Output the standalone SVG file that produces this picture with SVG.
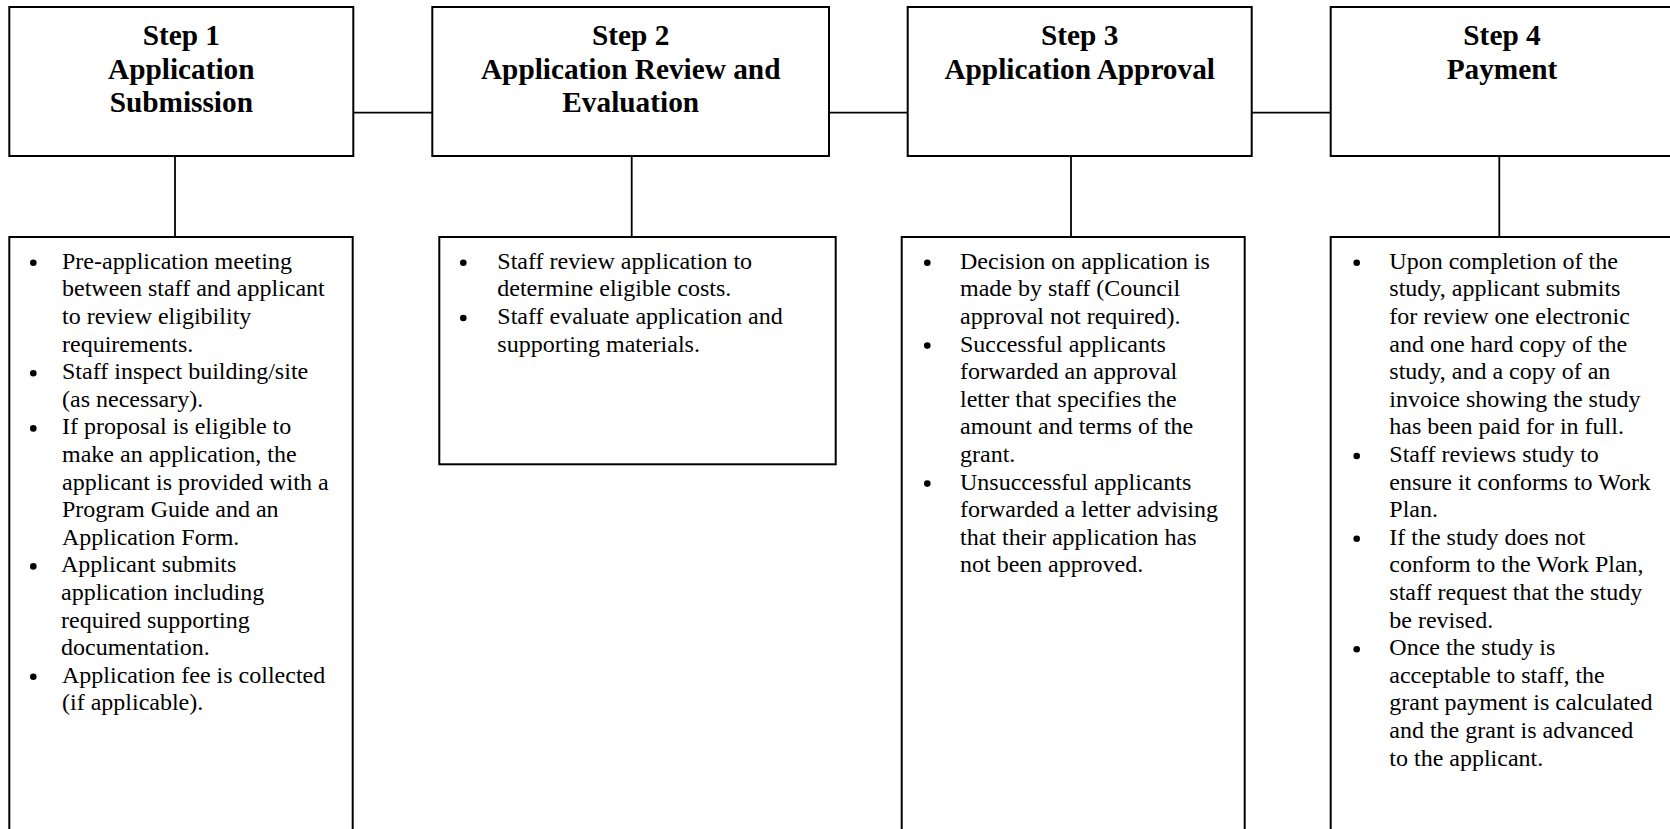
<svg xmlns="http://www.w3.org/2000/svg" width="1670" height="829" viewBox="0 0 1670 829">
<style>
.box{fill:#fff;stroke:#000;stroke-width:2}
.con{stroke:#000;stroke-width:1.8;fill:none}
.h{font-family:"Liberation Serif","Times New Roman",serif;font-weight:bold;font-size:29.3px;text-anchor:middle;fill:#000}
.b{font-family:"Liberation Serif","Times New Roman",serif;font-size:24px;fill:#000}
.dot{fill:#000}
</style>
<rect width="1670" height="829" fill="#fff"/>
<g id="connectors">
<line class="con" x1="353" y1="112.7" x2="432.3" y2="112.7"/>
<line class="con" x1="829" y1="112.7" x2="907.7" y2="112.7"/>
<line class="con" x1="1251.7" y1="112.7" x2="1330.7" y2="112.7"/>
<line class="con" x1="175" y1="156" x2="175" y2="237"/>
<line class="con" x1="631.7" y1="156" x2="631.7" y2="237"/>
<line class="con" x1="1071" y1="156" x2="1071" y2="237"/>
<line class="con" x1="1499.3" y1="156" x2="1499.3" y2="237"/>
</g>
<g id="step1">
<rect class="box" x="9.3" y="7" width="344" height="149"/>
<text class="h" x="181.3" y="45">Step 1</text>
<text class="h" x="181.3" y="78.7">Application</text>
<text class="h" x="181.3" y="112.4">Submission</text>
</g>
<g id="step2">
<rect class="box" x="432.3" y="7" width="396.7" height="149"/>
<text class="h" x="630.7" y="45">Step 2</text>
<text class="h" x="630.7" y="78.7">Application Review and</text>
<text class="h" x="630.7" y="112.4">Evaluation</text>
</g>
<g id="step3">
<rect class="box" x="907.7" y="7" width="344" height="149"/>
<text class="h" x="1079.7" y="45">Step 3</text>
<text class="h" x="1079.7" y="78.7">Application Approval</text>
</g>
<g id="step4">
<rect class="box" x="1330.7" y="7" width="343" height="149"/>
<text class="h" x="1502" y="45">Step 4</text>
<text class="h" x="1502" y="78.7">Payment</text>
</g>
<g id="details1">
<rect class="box" x="9.3" y="237" width="343.4" height="610"/>
<circle class="dot" cx="33.3" cy="262.8" r="3.3"/>
<circle class="dot" cx="33.3" cy="373.2" r="3.3"/>
<circle class="dot" cx="33.3" cy="428.4" r="3.3"/>
<circle class="dot" cx="33.3" cy="566.4" r="3.3"/>
<circle class="dot" cx="33.3" cy="676.8" r="3.3"/>
<text class="b" x="62" y="268.8">Pre-application meeting</text>
<text class="b" x="62" y="296.4">between staff and applicant</text>
<text class="b" x="62" y="324">to review eligibility</text>
<text class="b" x="62" y="351.6">requirements.</text>
<text class="b" x="62" y="379.2">Staff inspect building/site</text>
<text class="b" x="62" y="406.8">(as necessary).</text>
<text class="b" x="62" y="434.4">If proposal is eligible to</text>
<text class="b" x="62" y="462">make an application, the</text>
<text class="b" x="62" y="489.6">applicant is provided with a</text>
<text class="b" x="62" y="517.2">Program Guide and an</text>
<text class="b" x="62" y="544.8">Application Form.</text>
<text class="b" x="61" y="572.4">Applicant submits</text>
<text class="b" x="61" y="600">application including</text>
<text class="b" x="61" y="627.6">required supporting</text>
<text class="b" x="61" y="655.2">documentation.</text>
<text class="b" x="62" y="682.8">Application fee is collected</text>
<text class="b" x="62" y="710.4">(if applicable).</text>
</g>
<g id="details2">
<rect class="box" x="439.3" y="237" width="396.4" height="227.3"/>
<circle class="dot" cx="463.3" cy="262.8" r="3.3"/>
<circle class="dot" cx="463.3" cy="318" r="3.3"/>
<text class="b" x="497.3" y="268.8">Staff review application to</text>
<text class="b" x="497.3" y="296.4">determine eligible costs.</text>
<text class="b" x="497.3" y="324">Staff evaluate application and</text>
<text class="b" x="497.3" y="351.6">supporting materials.</text>
</g>
<g id="details3">
<rect class="box" x="901.7" y="237" width="343" height="610"/>
<circle class="dot" cx="927.3" cy="262.8" r="3.3"/>
<circle class="dot" cx="927.3" cy="345.6" r="3.3"/>
<circle class="dot" cx="927.3" cy="483.6" r="3.3"/>
<text class="b" x="960" y="268.8">Decision on application is</text>
<text class="b" x="960" y="296.4">made by staff (Council</text>
<text class="b" x="960" y="324">approval not required).</text>
<text class="b" x="960" y="351.6">Successful applicants</text>
<text class="b" x="960" y="379.2">forwarded an approval</text>
<text class="b" x="960" y="406.8">letter that specifies the</text>
<text class="b" x="960" y="434.4">amount and terms of the</text>
<text class="b" x="960" y="462">grant.</text>
<text class="b" x="960" y="489.6">Unsuccessful applicants</text>
<text class="b" x="960" y="517.2">forwarded a letter advising</text>
<text class="b" x="960" y="544.8">that their application has</text>
<text class="b" x="960" y="572.4">not been approved.</text>
</g>
<g id="details4">
<rect class="box" x="1330.7" y="237" width="350" height="610"/>
<circle class="dot" cx="1356.7" cy="262.8" r="3.3"/>
<circle class="dot" cx="1356.7" cy="456" r="3.3"/>
<circle class="dot" cx="1356.7" cy="538.8" r="3.3"/>
<circle class="dot" cx="1356.7" cy="649.2" r="3.3"/>
<text class="b" x="1389.3" y="268.8">Upon completion of the</text>
<text class="b" x="1389.3" y="296.4">study, applicant submits</text>
<text class="b" x="1389.3" y="324">for review one electronic</text>
<text class="b" x="1389.3" y="351.6">and one hard copy of the</text>
<text class="b" x="1389.3" y="379.2">study, and a copy of an</text>
<text class="b" x="1389.3" y="406.8">invoice showing the study</text>
<text class="b" x="1389.3" y="434.4">has been paid for in full.</text>
<text class="b" x="1389.3" y="462">Staff reviews study to</text>
<text class="b" x="1389.3" y="489.6">ensure it conforms to Work</text>
<text class="b" x="1389.3" y="517.2">Plan.</text>
<text class="b" x="1389.3" y="544.8">If the study does not</text>
<text class="b" x="1389.3" y="572.4">conform to the Work Plan,</text>
<text class="b" x="1389.3" y="600">staff request that the study</text>
<text class="b" x="1389.3" y="627.6">be revised.</text>
<text class="b" x="1389.3" y="655.2">Once the study is</text>
<text class="b" x="1389.3" y="682.8">acceptable to staff, the</text>
<text class="b" x="1389.3" y="710.4">grant payment is calculated</text>
<text class="b" x="1389.3" y="738">and the grant is advanced</text>
<text class="b" x="1389.3" y="765.6">to the applicant.</text>
</g>
</svg>
